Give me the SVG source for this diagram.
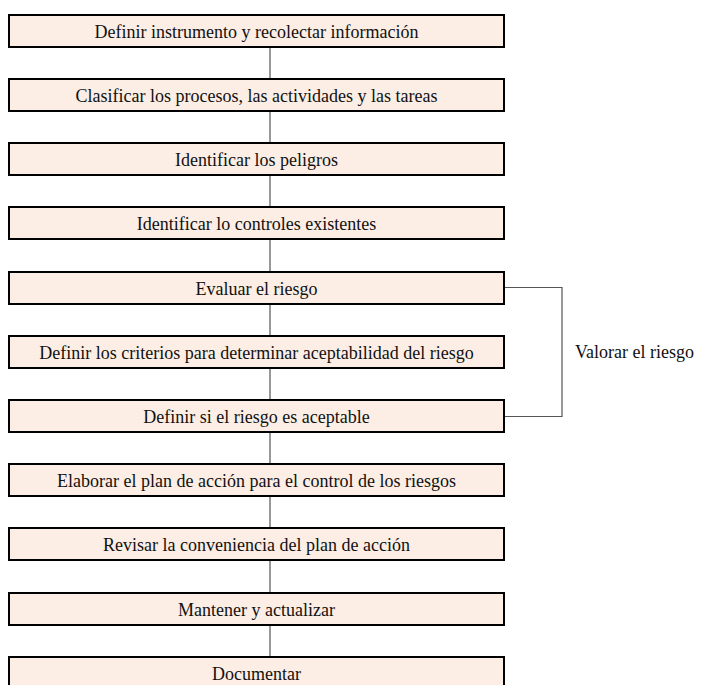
<svg xmlns="http://www.w3.org/2000/svg" width="703" height="685" viewBox="0 0 703 685">
<style>
.box{fill:#FCEEE5;stroke:#000;stroke-width:2}
.lbl{font-family:"Liberation Serif","Times New Roman",serif;font-size:18px;fill:#111;text-anchor:middle}
.side{font-family:"Liberation Serif","Times New Roman",serif;font-size:18px;fill:#111}
.con{stroke:#555;stroke-width:1.2;fill:none}
</style>
<rect width="703" height="685" fill="#fff"/>
<g id="connectors">
<line class="con" x1="270" y1="47" x2="270" y2="79"/>
<line class="con" x1="270" y1="111" x2="270" y2="143"/>
<line class="con" x1="270" y1="175" x2="270" y2="207"/>
<line class="con" x1="270" y1="239" x2="270" y2="272"/>
<line class="con" x1="270" y1="304" x2="270" y2="336"/>
<line class="con" x1="270" y1="368" x2="270" y2="400"/>
<line class="con" x1="270" y1="432" x2="270" y2="464"/>
<line class="con" x1="270" y1="496" x2="270" y2="528"/>
<line class="con" x1="270" y1="560" x2="270" y2="593"/>
<line class="con" x1="270" y1="625" x2="270" y2="657"/>
<polyline class="con" points="505,287.5 562,287.5 562,416.5 505,416.5"/>
</g>
<g id="n1"><rect class="box" x="9" y="15" width="495" height="32"/><text class="lbl" x="256.5" y="37.5">Definir instrumento y recolectar información</text></g>
<g id="n2"><rect class="box" x="9" y="79" width="495" height="32"/><text class="lbl" x="256.5" y="101.5">Clasificar los procesos, las actividades y las tareas</text></g>
<g id="n3"><rect class="box" x="9" y="143" width="495" height="32"/><text class="lbl" x="256.5" y="165.5">Identificar los peligros</text></g>
<g id="n4"><rect class="box" x="9" y="207" width="495" height="32"/><text class="lbl" x="256.5" y="229.5">Identificar lo controles existentes</text></g>
<g id="n5"><rect class="box" x="9" y="272" width="495" height="32"/><text class="lbl" x="256.5" y="294.5">Evaluar el riesgo</text></g>
<g id="n6"><rect class="box" x="9" y="336" width="495" height="32"/><text class="lbl" x="256.5" y="358.5">Definir los criterios para determinar aceptabilidad del riesgo</text></g>
<g id="n7"><rect class="box" x="9" y="400" width="495" height="32"/><text class="lbl" x="256.5" y="422.5">Definir si el riesgo es aceptable</text></g>
<g id="n8"><rect class="box" x="9" y="464" width="495" height="32"/><text class="lbl" x="256.5" y="486.5">Elaborar el plan de acción para el control de los riesgos</text></g>
<g id="n9"><rect class="box" x="9" y="528" width="495" height="32"/><text class="lbl" x="256.5" y="550.5">Revisar la conveniencia del plan de acción</text></g>
<g id="n10"><rect class="box" x="9" y="593" width="495" height="32"/><text class="lbl" x="256.5" y="615.5">Mantener y actualizar</text></g>
<g id="n11"><rect class="box" x="9" y="657" width="495" height="34"/><text class="lbl" x="256.5" y="679.5">Documentar</text></g>
<g id="valorar"><text class="side" x="575" y="358">Valorar el riesgo</text></g>
</svg>
